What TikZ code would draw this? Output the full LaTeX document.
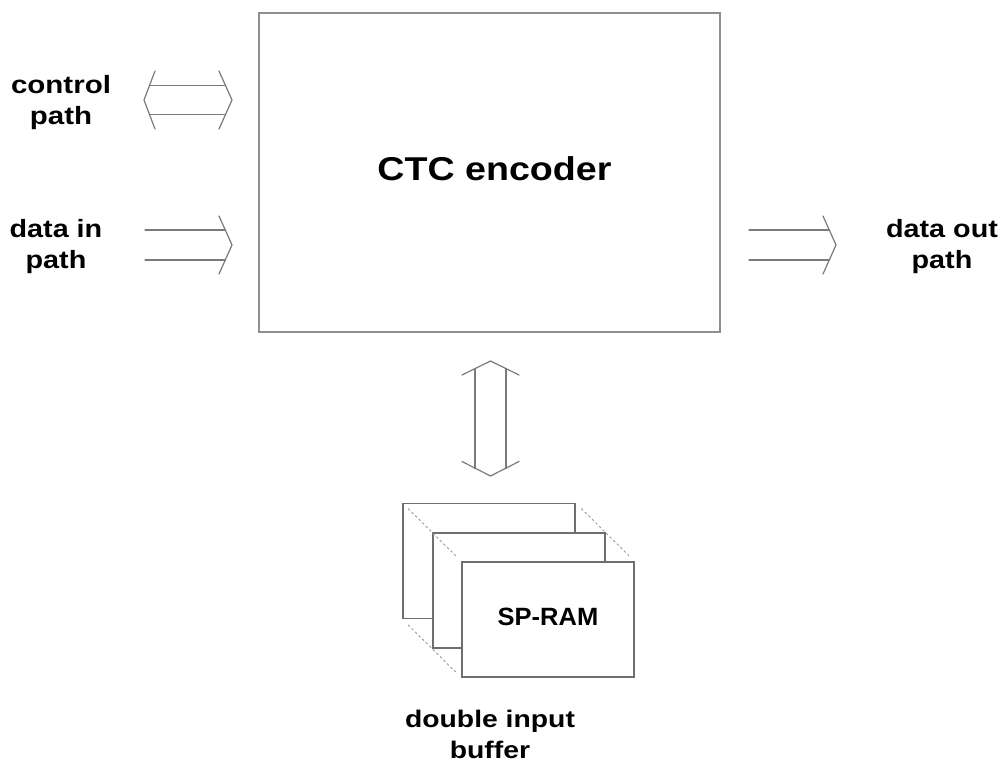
\documentclass[tikz,border=0pt]{standalone}
\usepackage{fontspec}
\setmainfont{Liberation Sans}
\usepackage{graphicx}
\newcommand{\wtxt}[4]{\scalebox{#1}[1]{\fontsize{#2}{#3}\selectfont\bfseries\begin{tabular}{@{}c@{}}#4\end{tabular}}}
\definecolor{boxgray}{HTML}{8E8E8E}
\definecolor{ramgray}{HTML}{6E6E6E}
\definecolor{arrgray}{HTML}{7A7A7A}
\definecolor{dashgray}{HTML}{9A9A9A}
\begin{document}
\begin{tikzpicture}[x=1pt,y=-1pt,
  encbox/.style={draw=boxgray,line width=1.3pt,fill=white,inner sep=0pt,minimum width=461pt,minimum height=319pt},
  rambox/.style={draw=ramgray,line width=1.3pt,fill=white,inner sep=0pt,minimum width=172pt,minimum height=115pt},
  arr/.style={draw=arrgray,line width=1.2pt,line cap=round,line join=miter},
  hidden/.style={draw=dashgray,line width=0.9pt,dash pattern=on 2.5pt off 2.5pt,shorten <=8pt,shorten >=8pt},
  lbl/.style={inner sep=0pt,text=black}]
\useasboundingbox (0,0) rectangle (1004,763);
\fill[white] (0,0) rectangle (1004,763);

% main encoder
\node[encbox] (enc) at (489.5,172.5) {\hspace*{10pt}\wtxt{1.14}{33}{40}{CTC encoder}};

% stacked RAM boxes
\node[rambox] (ramA) at (489,561) {};
\node[rambox] (ramB) at (519,590.5) {};
\node[rambox] (ramC) at (548,619.5) {\wtxt{1.02}{25}{31}{SP-RAM}};
\draw[hidden] (ramA.north west) -- (ramC.north west);
\draw[hidden] (ramA.north east) -- (ramC.north east);
\draw[hidden] (ramA.south west) -- (ramC.south west);

% labels
\node[lbl] (ctrl) at (61,103) {\wtxt{1.18}{25}{31}{control\\path}};
\node[lbl] (din)  at (56,247) {\wtxt{1.15}{25}{31}{data in\\path}};
\node[lbl] (dout) at (942,247) {\wtxt{1.15}{25}{31}{data out\\path}};
\node[lbl] (buf)  at (490,737) {\wtxt{1.18}{24}{31}{double input\\buffer}};

% control path: bidirectional hollow arrow
\draw[arr] (150,85.5) -- (225.5,85.5);
\draw[arr] (150,114.5) -- (225.5,114.5);
\draw[arr] (155,71) -- (144,100) -- (155,129);
\draw[arr] (219,71) -- (232,100) -- (219,129);

% data in path
\draw[arr] (145,230) -- (225.5,230);
\draw[arr] (145,260) -- (225.5,260);
\draw[arr] (219,216) -- (232,245) -- (219,274);

% data out path
\draw[arr] (749,230) -- (829.5,230);
\draw[arr] (749,260) -- (829.5,260);
\draw[arr] (823,216) -- (836,245) -- (823,274);

% vertical bidirectional arrow
\draw[arr] (475,368.5) -- (475,468.5);
\draw[arr] (506,368.5) -- (506,468.5);
\draw[arr] (462,375) -- (490.5,361) -- (519,375);
\draw[arr] (462,461.5) -- (490.5,476) -- (519,461.5);
\end{tikzpicture}
\end{document}
